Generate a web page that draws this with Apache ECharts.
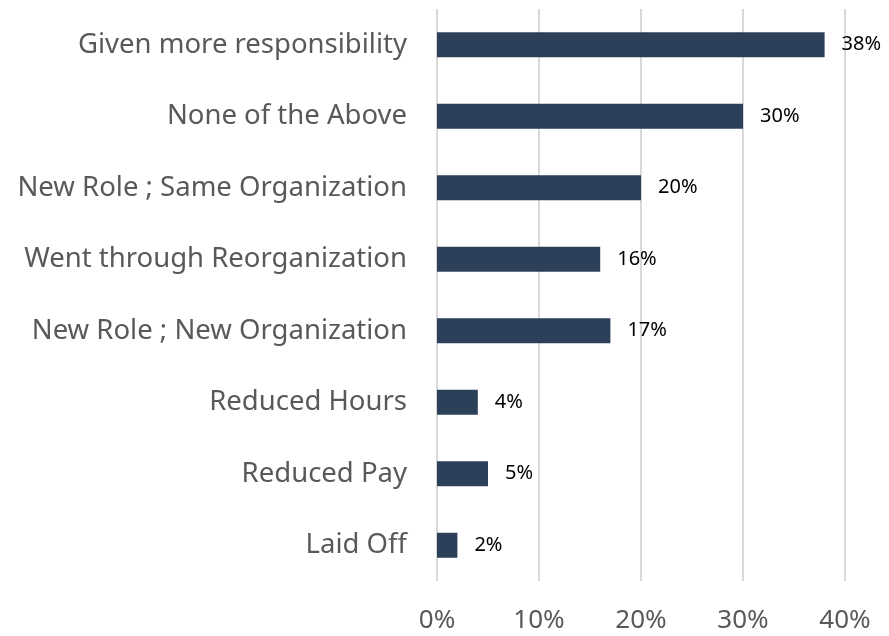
<!DOCTYPE html>
<html>
<head>
<meta charset="utf-8">
<script src="https://cdn.jsdelivr.net/npm/echarts@6/dist/echarts.min.js"></script>
<style>
  html, body { margin: 0; padding: 0; background: #fff; }
  #chart { width: 889px; height: 636px; }
</style>
</head>
<body>
<div id="chart"></div>
<script>
var categories = [
  'Given more responsibility',
  'None of the Above',
  'New Role ; Same Organization',
  'Went through Reorganization',
  'New Role ; New Organization',
  'Reduced Hours',
  'Reduced Pay',
  'Laid Off'
];
var values = [38, 30, 20, 16, 17, 4, 5, 2];
var tickValues = [0, 10, 20, 30, 40];

var chart = echarts.init(document.getElementById('chart'));
var font = 'Noto Sans, sans-serif';

var option = {
  animation: false,
  grid: {
    left: 437,
    right: 44,
    top: 9,
    bottom: 55
  },
  xAxis: {
    type: 'value',
    min: tickValues[0],
    max: tickValues[tickValues.length - 1],
    interval: 10,
    axisLine: { show: false },
    axisTick: { show: false },
    splitLine: {
      show: true,
      lineStyle: { color: '#d9d9d9', width: 2 }
    },
    axisLabel: {
      margin: 27,
      color: '#595959',
      fontSize: 26,
      fontFamily: font,
      formatter: '{value}%'
    }
  },
  yAxis: {
    type: 'category',
    inverse: true,
    data: categories,
    axisLine: { show: false },
    axisTick: { show: false },
    axisLabel: {
      margin: 30,
      color: '#595959',
      fontSize: 27.5,
      fontFamily: font
    }
  },
  series: [{
    type: 'bar',
    data: values,
    barWidth: 25,
    itemStyle: { color: '#2d405a' },
    label: {
      show: true,
      position: 'right',
      distance: 17,
      color: '#000',
      fontSize: 20,
      fontFamily: font,
      formatter: '{c}%'
    }
  }]
};
chart.setOption(option);
</script>
</body>
</html>
